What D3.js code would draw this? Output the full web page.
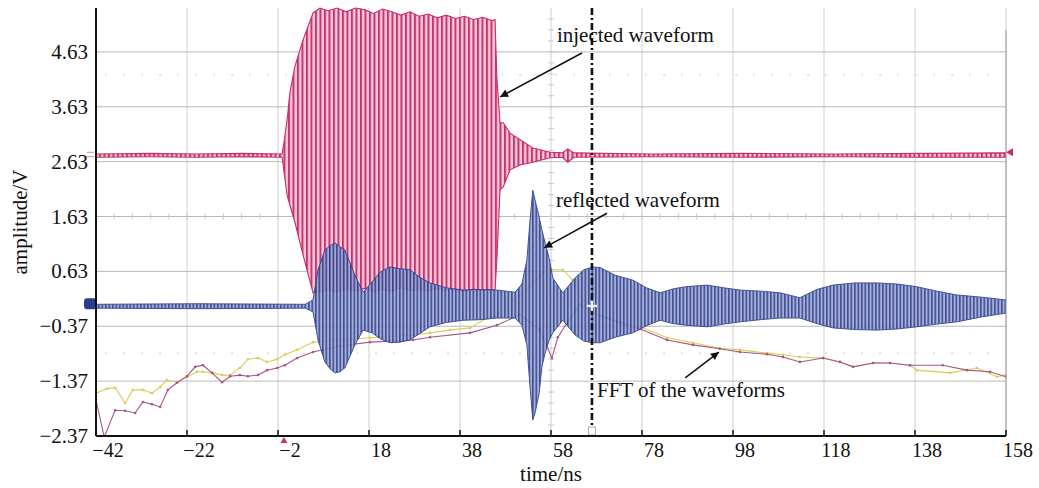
<!DOCTYPE html>
<html><head><meta charset="utf-8">
<script src="https://cdn.jsdelivr.net/npm/d3@7/dist/d3.min.js"></script>
<style>
body{margin:0;background:#fff;}
svg text{font-family:"Liberation Serif","Times New Roman",serif;fill:#111;}
</style></head><body>
<svg id="chart" width="1039" height="488"></svg>
<script>
// ---------- data ----------
const xTicks = [-42,-22,-2,18,38,58,78,98,118,138,158];
const yTicks = [-2.37,-1.37,-0.37,0.63,1.63,2.63,3.63,4.63];
const xTitle = "time/ns";
const yTitle = "amplitude/V";

// injected waveform envelope (time ns, upper V, lower V)
const injT  = [-42,-30,-20,-10,-1.1,-0.7,0.0,0.6,1.7,3.5,5.7,7.2,9,11,13,15,17,19,21,23,25,27,29,31,33,35,37,39,41,43,45,45.7,46.1,46.8,47.5,49.0,51.2,54.0,57.8,60.5,61.7,63.0,80,100,120,140,158];
const injHi = [2.77,2.78,2.77,2.78,2.77,2.97,3.39,3.88,4.36,4.85,5.34,5.43,5.38,5.43,5.36,5.43,5.40,5.33,5.41,5.36,5.30,5.36,5.28,5.32,5.25,5.30,5.24,5.28,5.22,5.26,5.20,5.22,4.17,3.34,3.34,3.15,3.03,2.88,2.80,2.79,2.86,2.79,2.77,2.78,2.77,2.78,2.79];
const injLo = [2.71,2.72,2.71,2.72,2.71,2.46,2.02,1.84,1.53,0.93,0.24,0.26,0.30,0.25,0.31,0.27,0.32,0.26,0.30,0.27,0.33,0.28,0.31,0.27,0.32,0.28,0.30,0.27,0.31,0.28,0.30,0.29,0.84,2.11,2.17,2.48,2.57,2.62,2.70,2.71,2.62,2.71,2.72,2.71,2.72,2.71,2.71];

// reflected waveform envelope
const refT  = [-42,-20,4.0,5.7,6.8,8.3,9.5,10.5,11.6,12.7,14.9,16.7,18.7,20.5,22.6,24.8,27.0,29.2,31.4,35,38.7,42.4,46.1,50.1,51.6,52.7,53.4,54.0,54.5,55.4,56.0,56.7,57.6,58.4,60.6,63.3,65.2,67.2,68.8,72.1,76.0,79,82.0,84.8,87.5,92.3,96,99.5,104,108.3,112.7,116.4,120.0,124.8,129.6,134,138.4,142.8,147.2,152.6,158];
const refHi = [0.03,0.04,0.03,0.11,0.66,1.02,1.10,1.15,1.08,1.02,0.56,0.25,0.44,0.62,0.71,0.68,0.66,0.52,0.42,0.33,0.29,0.30,0.29,0.25,0.40,0.84,1.57,2.11,1.93,1.62,1.39,1.15,0.87,0.51,0.24,0.51,0.66,0.71,0.70,0.56,0.47,0.33,0.24,0.31,0.35,0.38,0.33,0.29,0.27,0.24,0.15,0.30,0.38,0.42,0.42,0.40,0.35,0.27,0.20,0.16,0.11];
const refLo = [-0.04,-0.05,-0.04,-0.11,-0.62,-1.02,-1.15,-1.22,-1.20,-1.13,-0.71,-0.44,-0.49,-0.60,-0.67,-0.66,-0.62,-0.50,-0.38,-0.30,-0.26,-0.25,-0.22,-0.22,-0.35,-0.71,-1.48,-2.08,-1.95,-1.59,-1.11,-0.86,-0.62,-0.49,-0.26,-0.53,-0.64,-0.67,-0.67,-0.57,-0.49,-0.36,-0.26,-0.32,-0.35,-0.38,-0.33,-0.29,-0.25,-0.22,-0.22,-0.32,-0.40,-0.43,-0.44,-0.42,-0.38,-0.33,-0.29,-0.20,-0.13];

// FFT traces
const fftAT = [-42,-39.6,-37.8,-35.6,-33.9,-31.7,-29.7,-27.9,-26.4,-24.2,-22.0,-19.8,-18.5,-16.3,-14.3,-12.5,-10.4,-8.6,-6.4,-4.4,-2.2,-0.5,2.2,5.7,11.6,18.2,27.7,31.4,35.8,40.2,43.9,46.1,51.2,55.6,58.2,60.6,62.8,65.0,68.8,73.2,77.6,83.5,89.2,95.1,99.5,105.5,109.0,112.7,117.8,121.5,124.4,128.8,132.5,136.9,138.4,145.7,151.6,156.0,158];
const fftA  = [-1.59,-1.51,-1.49,-1.77,-1.53,-1.53,-1.59,-1.48,-1.35,-1.39,-1.29,-1.20,-1.20,-1.22,-1.26,-1.26,-1.13,-0.97,-0.95,-1.02,-0.97,-0.89,-0.80,-0.66,-0.62,-0.58,-0.53,-0.49,-0.44,-0.40,-0.22,-0.16,0.20,0.56,0.66,0.66,0.47,0.11,-0.16,-0.29,-0.38,-0.58,-0.67,-0.77,-0.80,-0.86,-0.89,-0.93,-0.95,-1.02,-1.11,-1.04,-1.04,-1.08,-1.17,-1.22,-1.13,-1.29,-1.26];
const fftBT = [-42,-40.2,-37.8,-35.6,-33.4,-31.7,-29.7,-27.9,-26.2,-24.2,-22.0,-20.2,-18.5,-16.5,-14.3,-12.5,-10.4,-8.6,-6.4,-4.4,-2.2,-0.5,2.2,5.7,11.6,18.2,27.7,31.4,40.2,46.1,51.2,55.6,58.2,59.5,61.5,64.4,68.8,73.2,77.6,83.5,89.2,95.1,99.5,105.5,109.0,112.7,117.8,121.5,124.4,128.8,132.5,136.9,144.1,149.4,154.5,158];
const fftB  = [-1.71,-2.39,-1.90,-1.91,-1.95,-1.75,-1.79,-1.84,-1.53,-1.40,-1.28,-1.11,-1.08,-1.22,-1.39,-1.28,-1.26,-1.28,-1.26,-1.17,-1.13,-1.08,-0.95,-0.84,-0.73,-0.66,-0.62,-0.57,-0.49,-0.35,-0.16,-0.44,-0.95,-0.57,-0.31,0.02,-0.18,-0.31,-0.42,-0.62,-0.71,-0.78,-0.84,-0.88,-0.93,-1.02,-0.95,-1.02,-1.11,-1.04,-1.04,-1.08,-1.08,-1.17,-1.20,-1.29];

// cursor and annotations
const cursorT = 67.0;
const annoLabels = ["injected waveform","reflected waveform","FFT of the waveforms"];
const annoTextT = [59.3, 59.1, 68.1];
const annoTextV = [4.81, 1.80, -1.66];
const arrowFromT = [64.8, 70.3, 87.5];
const arrowFromV = [4.61, 1.69, -1.31];
const arrowToT   = [46.8, 56.5, 94.9];
const arrowToV   = [3.81, 1.06, -0.84];

// ---------- drawing ----------
const W = 1039, H = 488;
const m = {left:96, right:33, top:8, bottom:52};
const svg = d3.select("#chart");
const x = d3.scaleLinear().domain([-42,158]).range([m.left, W-m.right]);
const y = d3.scaleLinear().domain([-2.37,5.43]).range([H-m.bottom, m.top]);

const defs = svg.append("defs");
defs.append("clipPath").attr("id","plotClip").append("rect")
  .attr("x",m.left).attr("y",m.top-1).attr("width",W-m.left-m.right).attr("height",H-m.top-m.bottom+1);
const pr = defs.append("pattern").attr("id","redPat").attr("patternUnits","userSpaceOnUse").attr("width",4.5).attr("height",20);
pr.append("rect").attr("width",4.5).attr("height",20).attr("fill","#eba7c2");
pr.append("rect").attr("x",0).attr("width",1.7).attr("height",20).attr("fill","#c62f6b");
pr.append("rect").attr("x",3.1).attr("width",0.9).attr("height",20).attr("fill","#fbeef3");
const pb = defs.append("pattern").attr("id","bluePat").attr("patternUnits","userSpaceOnUse").attr("width",3.5).attr("height",20);
pb.append("rect").attr("width",3.5).attr("height",20).attr("fill","#9ca7d3");
pb.append("rect").attr("x",0).attr("width",1.6).attr("height",20).attr("fill","#2c3c8b");
const mk = defs.append("marker").attr("id","arrowHead").attr("viewBox","0 0 10 10").attr("refX",10).attr("refY",5)
  .attr("markerWidth",11).attr("markerHeight",8).attr("markerUnits","userSpaceOnUse").attr("orient","auto");
mk.append("path").attr("d","M0,0 L10,5 L0,10 Z").attr("fill","#111");

// grid
const grid = svg.append("g");
grid.selectAll("line.v").data(xTicks.slice(1)).join("line")
  .attr("x1",d=>x(d)).attr("x2",d=>x(d)).attr("y1",m.top).attr("y2",y(-2.37))
  .attr("stroke","#cfcfcf").attr("stroke-width",1);
grid.selectAll("line.h").data(yTicks.slice(1)).join("line")
  .attr("x1",x(-42)).attr("x2",x(158)).attr("y1",d=>y(d)).attr("y2",d=>y(d))
  .attr("stroke","#b9b9b9").attr("stroke-width",1);
grid.selectAll("line.d").data([4.21,-0.86]).join("line")
  .attr("x1",x(-40)).attr("x2",x(156)).attr("y1",d=>y(d)).attr("y2",d=>y(d))
  .attr("stroke","#dadada").attr("stroke-width",1.5).attr("stroke-dasharray","2,16");
grid.selectAll("line.mx").data(d3.range(-42,158,4)).join("line")
  .attr("x1",d=>x(d)).attr("x2",d=>x(d)).attr("y1",y(1.63)-3).attr("y2",y(1.63)+3)
  .attr("stroke","#c8c8c8");
grid.selectAll("line.my").data(d3.range(-2.37,5.4,0.2)).join("line")
  .attr("x1",x(58)-3).attr("x2",x(58)+3).attr("y1",d=>y(d)).attr("y2",d=>y(d))
  .attr("stroke","#c8c8c8");

const plot = svg.append("g").attr("clip-path","url(#plotClip)");

// FFT traces
const fftData = [
  {t:fftAT, v:fftA, c:"#dccb55"},
  {t:fftBT, v:fftB, c:"#a8548a"}
];
const ln = d3.line().x(d=>x(d[0])).y(d=>y(d[1]));
fftData.forEach(s=>{
  const pts = s.t.map((t,i)=>[t,s.v[i]]);
  plot.append("path").attr("d",ln(pts)).attr("fill","none").attr("stroke",s.c).attr("stroke-width",1.1);
  plot.append("g").selectAll("circle").data(pts).join("circle")
    .attr("cx",d=>x(d[0])).attr("cy",d=>y(d[1])).attr("r",1.3).attr("fill",s.c);
});

// waveforms
const area = d3.area().x(d=>x(d[0])).y0(d=>y(d[2])).y1(d=>y(d[1]));
const injPts = injT.map((t,i)=>[t,injHi[i],injLo[i]]);
const refPts = refT.map((t,i)=>[t,refHi[i],refLo[i]]);
plot.append("path").attr("d",area(injPts)).attr("fill","url(#redPat)").attr("stroke","#c62f6b").attr("stroke-width",1.1);
plot.append("path").attr("d",area(refPts)).attr("fill","url(#bluePat)").attr("stroke","#2f3f8e").attr("stroke-width",1.0).attr("opacity",0.9);

// cursor
svg.append("line").attr("x1",x(cursorT)).attr("x2",x(cursorT)).attr("y1",m.top).attr("y2",y(-2.37))
  .attr("stroke","#111").attr("stroke-width",2.6).attr("stroke-dasharray","7,3,2,3");
svg.append("rect").attr("x",x(cursorT)-3.5).attr("y",y(-2.37)-9).attr("width",7).attr("height",8)
  .attr("fill","#fff").attr("stroke","#999").attr("stroke-width",0.8);
svg.append("path").attr("d",`M${x(cursorT)-5},${y(0.0)}h10M${x(cursorT)},${y(0.0)-5}v10`)
  .attr("stroke","#eee").attr("stroke-width",2.2);

// channel markers
svg.append("rect").attr("x",x(-42)-12).attr("y",y(0.14)).attr("width",13).attr("height",y(-0.06)-y(0.14)).attr("rx",3)
  .attr("fill","#2d3d8c");
svg.append("path").attr("d",`M${x(-42)-9},${y(2.80)}h7M${x(-42)-9},${y(2.72)}h7`).attr("stroke","#e29ab8").attr("stroke-width",1.2);
svg.append("path").attr("d",`M${x(158)},${y(2.80)}l7,-4v8z`).attr("fill","#c42f6b");
svg.append("path").attr("d",`M${x(-0.7)},${y(-2.37)+1}l-3.5,6h7z`).attr("fill","#d0306f");

// axes
const ax = svg.append("g");
ax.append("line").attr("x1",x(-42)).attr("x2",x(158)).attr("y1",y(-2.37)).attr("y2",y(-2.37)).attr("stroke","#111").attr("stroke-width",2);
ax.append("line").attr("x1",x(-42)).attr("x2",x(-42)).attr("y1",m.top).attr("y2",y(-2.37)).attr("stroke","#111").attr("stroke-width",2);
ax.append("line").attr("x1",x(158)).attr("x2",x(158)).attr("y1",m.top+22).attr("y2",y(-2.37)).attr("stroke","#9a9a9a").attr("stroke-width",1);
ax.selectAll("line.xt").data(xTicks).join("line")
  .attr("x1",d=>x(d)).attr("x2",d=>x(d)).attr("y1",y(-2.37)).attr("y2",y(-2.37)-6).attr("stroke","#111").attr("stroke-width",1.5);
const fmtX = d => (d<0 ? "\u2212" + Math.abs(d) : String(d));
const fmtY = d => (d<0 ? "\u2212" + Math.abs(d).toFixed(2) : d.toFixed(2));
ax.selectAll("text.xl").data(xTicks).join("text")
  .attr("x",d=>x(d)+12).attr("y",457).attr("text-anchor","middle").attr("font-size",20)
  .text(fmtX);
ax.selectAll("text.yl").data(yTicks).join("text")
  .attr("x",88).attr("y",d=>y(d)+7).attr("text-anchor","end").attr("font-size",21)
  .text(fmtY);
ax.append("text").attr("x",(x(-42)+x(158))/2).attr("y",481).attr("text-anchor","middle").attr("font-size",21).text(xTitle);
ax.append("text").attr("transform",`translate(27,${(m.top+y(-2.37))/2}) rotate(-90)`).attr("text-anchor","middle").attr("font-size",21).text(yTitle);

// annotations
const ann = svg.append("g");
annoLabels.forEach((lab,i)=>{
  ann.append("line").attr("x1",x(arrowFromT[i])).attr("y1",y(arrowFromV[i]))
    .attr("x2",x(arrowToT[i])).attr("y2",y(arrowToV[i]))
    .attr("stroke","#111").attr("stroke-width",1.5).attr("marker-end","url(#arrowHead)");
  ann.append("text").attr("x",x(annoTextT[i])).attr("y",y(annoTextV[i])).attr("font-size",21).text(lab);
});
</script>
</body></html>
